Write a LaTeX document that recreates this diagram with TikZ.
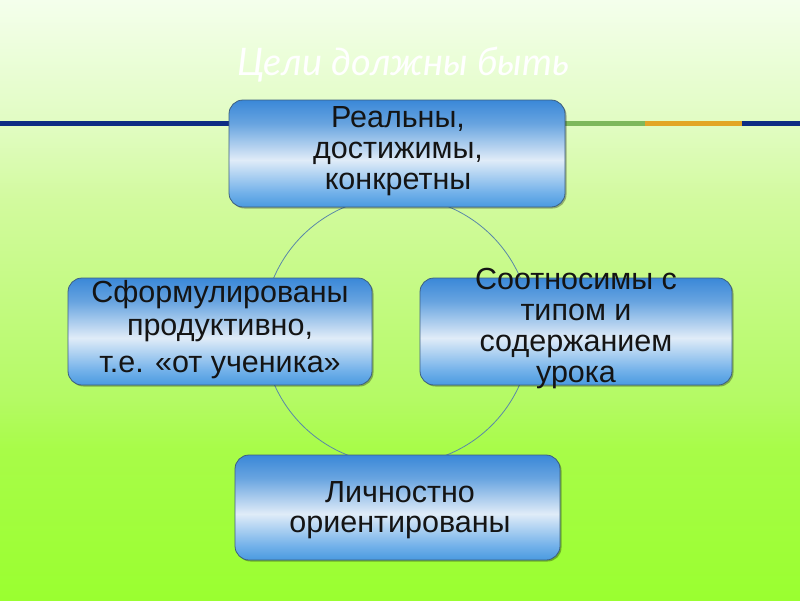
\documentclass[tikz,border=0pt]{standalone}
\usepackage{fontspec}
\setmainfont{Liberation Sans}
\newfontfamily\titlefont{Lato}
\usetikzlibrary{shadows}
\definecolor{bgA}{HTML}{9AFF30}
\definecolor{bgB}{HTML}{A8FC48}
\definecolor{bgC}{HTML}{B4FA64}
\definecolor{bgD}{HTML}{D2FA9E}
\definecolor{bgE}{HTML}{E0FCC0}
\definecolor{bgF}{HTML}{F4FFEC}
\definecolor{bxA}{HTML}{4A9AE0}
\definecolor{bxB}{HTML}{74B2EA}
\definecolor{bxC}{HTML}{E0ECF8}
\definecolor{bxD}{HTML}{68A4E0}
\definecolor{bxE}{HTML}{3A88D8}
\definecolor{boxline}{HTML}{3D5F80}
\definecolor{ringcol}{HTML}{5A88A8}
\definecolor{navy}{HTML}{0D2C84}
\definecolor{barGreen}{HTML}{7DB85C}
\definecolor{barOrange}{HTML}{E2A526}
\pgfdeclareverticalshading{bgshade}{100bp}{color(0bp)=(bgA); color(25bp)=(bgA); color(37.5bp)=(bgB); color(41.7bp)=(bgC); color(58.3bp)=(bgD); color(64.2bp)=(bgE); color(75bp)=(bgF); color(100bp)=(bgF)}
\pgfdeclareverticalshading{boxshade}{100bp}{color(0bp)=(bxA); color(25bp)=(bxA); color(32bp)=(bxB); color(47bp)=(bxC); color(64bp)=(bxD); color(75bp)=(bxE); color(100bp)=(bxE)}
\tikzset{
  box/.style={draw=boxline, line width=0.8pt, rounded corners=14pt, shading=boxshade,
    inner sep=0pt, outer sep=0pt,
    drop shadow={shadow xshift=1.5pt, shadow yshift=-1.5pt, opacity=0.3, fill=black}},
  boxtext/.style={align=center, inner sep=0pt, text=black!92},
  bar/.style={line width=5pt},
  ring/.style={circle, draw=ringcol, line width=0.8pt, inner sep=0pt, minimum size=268pt}
}
\begin{document}
\begin{tikzpicture}[x=1pt, y=-1pt]
\useasboundingbox (0,0) rectangle (800,600);
\path[shading=bgshade] (0,0) rectangle (800,600);
% title
\node[anchor=base west, inner sep=0pt, text=white, font=\titlefont\itshape\fontsize{38}{40}\selectfont] (title) at (237,75) {Цели должны быть};
% bars
\coordinate (l0) at (0,123);
\coordinate (l1) at (240,123);
\coordinate (r0) at (560,123);
\coordinate (r1) at (645,123);
\coordinate (r2) at (742,123);
\coordinate (r3) at (800,123);
\draw[bar, navy] (l0) -- (l1);
\draw[bar, barGreen] (r0) -- (r1);
\draw[bar, barOrange] (r1) -- (r2);
\draw[bar, navy] (r2) -- (r3);
% ring
\node[ring] (ringnode) at (397,330.5) {};
% boxes
\node[box, minimum width=336pt, minimum height=107pt] (top) at (397,153.5) {};
\node[box, minimum width=304pt, minimum height=107pt] (left) at (220,331.5) {};
\node[box, minimum width=312pt, minimum height=107pt] (right) at (576,331.5) {};
\node[box, minimum width=325pt, minimum height=105pt] (bottom) at (397.5,507.5) {};
% texts
\node[boxtext, font=\fontsize{30.5}{31}\selectfont] (ttop) at (398,151.5) {Реальны,\\достижимы,\\конкретны};
\node[boxtext, font=\fontsize{30.5}{33}\selectfont] (tleft) at (220,329.5) {Сформулированы\\продуктивно,\\[4pt]т.е. «от ученика»};
\node[boxtext, font=\fontsize{30.5}{31}\selectfont] (tright) at (576,329) {Соотносимы с\\типом и\\содержанием\\урока};
\node[boxtext, font=\fontsize{30.5}{30}\selectfont] (tbottom) at (400,510.5) {Личностно\\ориентированы};
\end{tikzpicture}
\end{document}
